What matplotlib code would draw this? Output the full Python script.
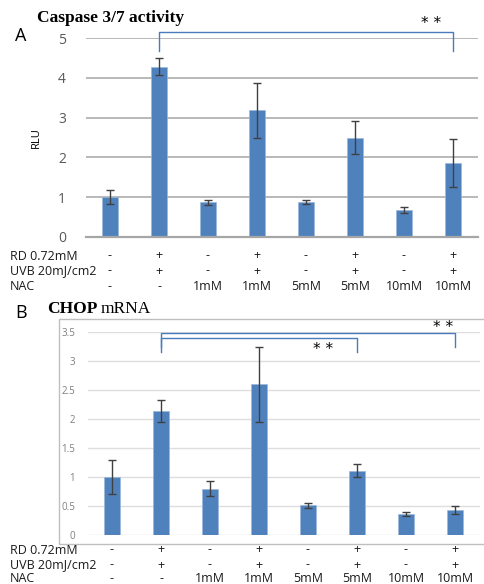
import matplotlib
matplotlib.use('Agg')
import matplotlib.pyplot as plt
import matplotlib.patches as mpatches
from matplotlib.transforms import blended_transform_factory
import numpy as np

# data
rd_row = ['-', '+', '-', '+', '-', '+', '-', '+']
uvb_row = ['-', '+', '-', '+', '-', '+', '-', '+']
nac_row = ['-', '-', '1mM', '1mM', '5mM', '5mM', '10mM', '10mM']
row_names = ['RD 0.72mM', 'UVB 20mJ/cm2', 'NAC']

caspase = [1.00, 4.28, 0.87, 3.18, 0.88, 2.50, 0.68, 1.85]
caspase_err = [0.18, 0.21, 0.06, 0.70, 0.06, 0.42, 0.07, 0.60]

chop = [1.00, 2.13, 0.80, 2.60, 0.51, 1.11, 0.36, 0.43]
chop_err = [0.30, 0.19, 0.13, 0.65, 0.05, 0.11, 0.04, 0.07]

W, H = 484, 584
BAR = '#4f81bd'
BRK = '#4a7bbf'
plt.rcParams['font.family'] = ['Open Sans', 'DejaVu Sans']

fig = plt.figure(figsize=(W / 100, H / 100), dpi=100)


def px_axes(left, top, right, bottom):
    return fig.add_axes([left / W, 1 - bottom / H, (right - left) / W, (bottom - top) / H])


def fy(y):
    return 1 - y / H


def draw_table(ax, rows_y):
    tr = blended_transform_factory(ax.transData, fig.transFigure)
    x = np.arange(len(nac_row))
    for name, vals, y in zip(row_names, [rd_row, uvb_row, nac_row], rows_y):
        fig.text(10 / W, fy(y), name, fontsize=9, va='center', ha='left', color='#1a1a1a')
        for xi, v in zip(x, vals):
            ax.text(xi, fy(y), v, transform=tr, fontsize=9, va='center', ha='center',
                    color='#1a1a1a', clip_on=False)


def bracket(ax, x0, x1, ytop, yleg, stars_x, stars_y):
    tr = blended_transform_factory(ax.transData, fig.transFigure)
    ax.plot([x0, x0, x1, x1], [fy(yleg), fy(ytop), fy(ytop), fy(yleg)], color=BRK,
            lw=1.0, transform=tr, clip_on=False, solid_joinstyle='round')
    ax.text(stars_x, fy(stars_y), '* *', transform=tr, fontsize=11, ha='center',
            va='center', family='DejaVu Sans', clip_on=False)


x = np.arange(len(caspase))

# ---------------- Panel A ----------------
axA = px_axes(85.5, 38, 477.5, 237)
axA.set_xlim(-0.5, 7.5)
axA.set_ylim(0, 5)
axA.set_yticks([0, 1, 2, 3, 4, 5])
axA.grid(axis='y', color='#b3b3b3', lw=1.3)
axA.set_axisbelow(True)
axA.bar(x, caspase, width=0.32, color=BAR, edgecolor='#9db7d9', lw=0.5, zorder=2)
axA.errorbar(x, caspase, yerr=caspase_err, fmt='none', ecolor='#404040', elinewidth=1,
             capsize=3, capthick=1, zorder=3)
for s in ['top', 'right', 'left']:
    axA.spines[s].set_visible(False)
axA.spines['bottom'].set_color('#a6a6a6')
axA.spines['bottom'].set_linewidth(1.6)
axA.set_xticks([])
axA.tick_params(axis='y', length=0, labelsize=10, labelcolor='#595959', pad=14)
axA.set_ylabel('RLU', fontsize=8, labelpad=12)
axA.patch.set_alpha(0)

draw_table(axA, [256, 271, 287])
bracket(axA, 1, 7, 32, 51, 6.55, 24)

fig.text(15 / W, fy(36), 'A', fontsize=13, va='center', ha='left')
fig.text(37 / W, fy(18), 'Caspase 3/7 activity', fontsize=12.5, fontweight='bold',
         family='Liberation Serif', va='center', ha='left')

# ---------------- Panel B ----------------
box = mpatches.Rectangle((58.7 / W, fy(544)), (W + 5 - 58.7) / W, (544 - 319) / H,
                         transform=fig.transFigure, fill=False, edgecolor='#bfbfbf',
                         lw=1.0, zorder=0)
fig.patches.append(box)

axB = px_axes(87.5, 332, 479.5, 535)
axB.set_xlim(-0.5, 7.5)
axB.set_ylim(0, 3.5)
axB.set_yticks(np.arange(0, 3.51, 0.5))
axB.set_yticklabels(['0', '0.5', '1', '1.5', '2', '2.5', '3', '3.5'])
axB.grid(axis='y', color='#dedede', lw=1.0)
axB.set_axisbelow(True)
axB.bar(x, chop, width=0.32, color=BAR, edgecolor='#9db7d9', lw=0.5, zorder=2)
axB.errorbar(x, chop, yerr=chop_err, fmt='none', ecolor='#404040', elinewidth=1,
             capsize=3, capthick=1, zorder=3)
for s in ['top', 'right', 'left', 'bottom']:
    axB.spines[s].set_visible(False)
axB.set_xticks([])
axB.tick_params(axis='y', length=0, labelsize=7, labelcolor='#7f7f7f', pad=9)
axB.patch.set_alpha(0)

draw_table(axB, [550, 565, 579])
bracket(axB, 1, 7, 333, 347, 6.75, 327)
bracket(axB, 1, 5, 338, 352, 4.3, 350)

fig.text(15 / W, fy(313), 'B', fontsize=13, va='center', ha='left')
t1 = fig.text(47 / W, fy(309), 'CHOP', fontsize=12.5, fontweight='bold',
              family='Liberation Serif', va='center', ha='left')
fig.canvas.draw()
bb = t1.get_window_extent()
fig.text(bb.x1 / W + 3 / W, fy(309), 'mRNA', fontsize=12.5, family='Liberation Serif',
         va='center', ha='left')

fig.savefig('out.png', dpi=100)
